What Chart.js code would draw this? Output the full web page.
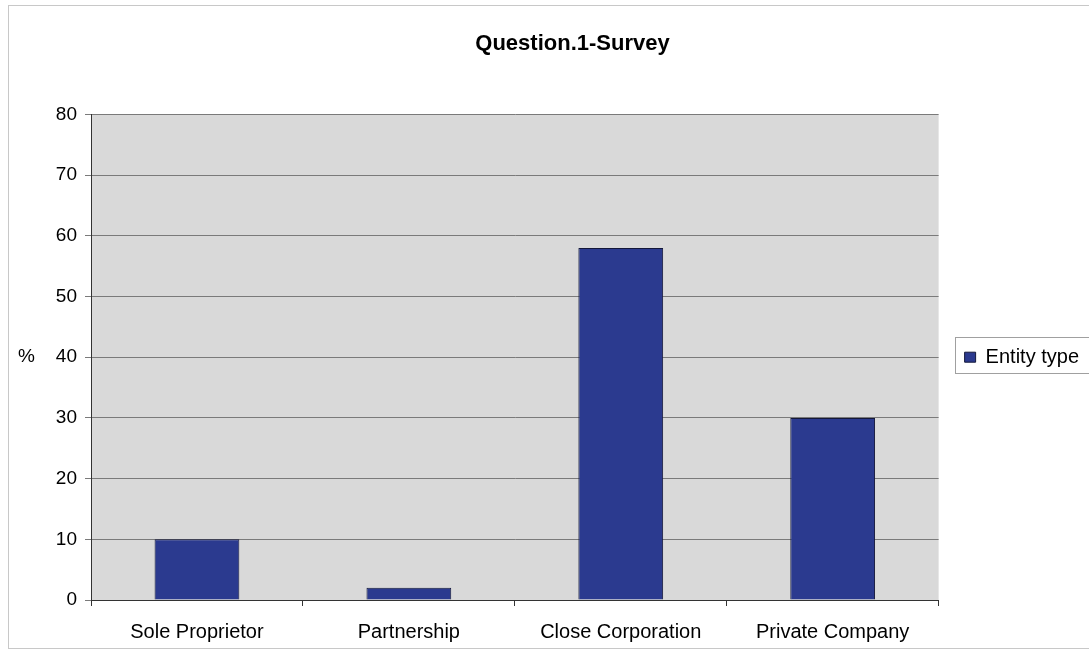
<!DOCTYPE html>
<html>
<head>
<meta charset="utf-8">
<script src="https://cdn.jsdelivr.net/npm/chart.js@4/dist/chart.umd.min.js"></script>
<style>
html,body{margin:0;padding:0;background:#fff;}
#wrap{width:1089px;height:663px;position:relative;}
</style>
</head>
<body>
<div id="wrap"><canvas id="c" width="1089" height="663"></canvas></div>
<script>
const categories = ["Sole Proprietor", "Partnership", "Close Corporation", "Private Company"];
const entityType = [10, 2, 58, 30];
const yTicks = [0, 10, 20, 30, 40, 50, 60, 70, 80];
const FONT = '"Liberation Sans", Arial, sans-serif';

const frame = {
  id: 'frame',
  afterLayout(chart) {
    if (chart.titleBlock) { chart.titleBlock.left += 48; }
  },
  beforeDraw(chart) {
    const ctx = chart.ctx, a = chart.chartArea;
    ctx.save();
    ctx.fillStyle = '#fff';
    ctx.fillRect(0, 0, chart.width, chart.height);
    ctx.strokeStyle = '#c8c8c8';
    ctx.lineWidth = 1;
    ctx.strokeRect(8.5, 5.5, 1085, 643);
    ctx.fillStyle = '#d9d9d9';
    ctx.fillRect(a.left, a.top, a.right - a.left, a.bottom - a.top);
    ctx.restore();
  },
  afterDraw(chart) {
    const ctx = chart.ctx;
    ctx.save();
    const hb = chart.legend.legendHitBoxes && chart.legend.legendHitBoxes[0];
    if (hb) {
      ctx.strokeStyle = '#a0a0a0';
      ctx.lineWidth = 1;
      ctx.strokeRect(Math.round(hb.left) - 9.5, Math.round(hb.top + hb.height / 2) - 19.5, 150, 36);
    }
    ctx.fillStyle = '#000';
    ctx.font = '19px ' + FONT;
    ctx.textBaseline = 'middle';
    ctx.textAlign = 'left';
    const y40 = chart.scales.y.getPixelForValue(40);
    ctx.fillText('%', 18, y40);
    ctx.restore();
  }
};

new Chart(document.getElementById('c'), {
  type: 'bar',
  data: {
    labels: categories,
    datasets: [{
      label: 'Entity type',
      data: entityType,
      backgroundColor: '#2b3a8f',
      borderColor: '#14183a',
      borderWidth: 1,
      barPercentage: 0.4,
      categoryPercentage: 1.0
    }]
  },
  options: {
    responsive: false,
    animation: false,
    layout: { padding: { left: 8, right: 0, top: 0, bottom: 5 } },
    plugins: {
      title: {
        display: true,
        text: 'Question.1-Survey',
        color: '#000',
        font: { family: FONT, size: 22, weight: 'bold' },
        padding: { top: 31, bottom: 57 }
      },
      legend: {
        position: 'right',
        fullSize: false,
        labels: {
          color: '#000',
          font: { family: FONT, size: 20 },
          boxWidth: 11,
          boxHeight: 10,
          padding: 26,
          generateLabels(chart) {
            return [{ text: 'Entity type', fillStyle: '#2b3a8f', strokeStyle: '#14183a', lineWidth: 1, hidden: false, datasetIndex: 0 }];
          }
        }
      },
      tooltip: { enabled: false }
    },
    scales: {
      x: {
        offset: true,
        grid: { display: true, drawOnChartArea: false, offset: true, color: '#333', tickLength: 6 },
        border: { display: true, color: '#333' },
        ticks: { color: '#000', font: { family: FONT, size: 20 }, padding: 14, maxRotation: 0 }
      },
      y: {
        min: 0, max: 80,
        afterBuildTicks(scale) { scale.ticks = yTicks.map(v => ({ value: v })); },
        afterFit(scale) { scale.width = 83; },
        grid: { color: '#7a7a7a', tickLength: 6 },
        border: { display: true, color: '#333' },
        ticks: { color: '#000', font: { family: FONT, size: 19 }, padding: 8 }
      }
    }
  },
  plugins: [frame]
});
</script>
</body>
</html>
